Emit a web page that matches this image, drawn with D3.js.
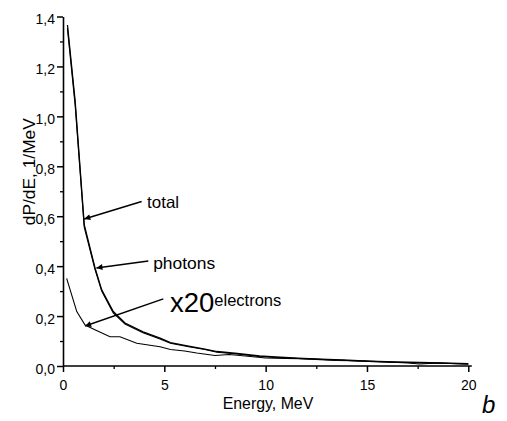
<!DOCTYPE html>
<html>
<head>
<meta charset="utf-8">
<script src="https://cdn.jsdelivr.net/npm/d3@7"></script>
<style>
  body { margin: 0; background: #fff; }
  svg { display: block; }
  text { font-family: "Liberation Sans", Arial, sans-serif; fill: #000; }
</style>
</head>
<body>
<svg id="chart" width="507" height="421"></svg>
<script>
// ---- Data ----
const totalE   = [0.22, 0.6, 1.05, 1.58, 1.91, 2.48, 3.06, 3.95, 4.79, 5.3, 6.2, 7.0, 7.6, 8.6, 9.7, 10.5, 11.6, 12.7, 13.8, 15.1, 16.4, 17.6, 19.1, 20.0];
const totalY   = [1.366, 1.06, 0.565, 0.393, 0.305, 0.218, 0.172, 0.137, 0.112, 0.094, 0.080, 0.068, 0.058, 0.050, 0.040, 0.036, 0.031, 0.027, 0.024, 0.019, 0.016, 0.014, 0.011, 0.009];
const photonsY = [1.352, 1.047, 0.556, 0.387, 0.300, 0.213, 0.168, 0.133, 0.108, 0.091, 0.077, 0.066, 0.055, 0.048, 0.038, 0.034, 0.030, 0.025, 0.023, 0.018, 0.015, 0.013, 0.010, 0.008];
const electronsE = [0.18, 0.68, 1.09, 1.6, 2.32, 2.81, 3.64, 4.79, 5.3, 6.0, 6.6, 7.5, 8.2, 9.0, 10.0, 11.0, 12.5, 13.5, 15.0, 16.0, 17.0, 17.6, 18.5, 19.2, 20.0];
const electronsY = [0.351, 0.218, 0.164, 0.144, 0.117, 0.117, 0.091, 0.077, 0.066, 0.060, 0.052, 0.042, 0.046, 0.040, 0.032, 0.030, 0.028, 0.022, 0.020, 0.016, 0.012, 0.008, 0.012, 0.010, 0.008];

const xTicks = [0, 5, 10, 15, 20];
const xMinorTicks = [2.5, 7.5, 12.5, 17.5];
const yTicks = [0, 0.2, 0.4, 0.6, 0.8, 1.0, 1.2, 1.4];
const yMinorTicks = [0.1, 0.3, 0.5, 0.7, 0.9, 1.1, 1.3];

// annotations: label, arrow tip (E, y), arrow tail (E, y), label anchor (E, y)
const annotations = [
  { label: "total",   tip: [1.05, 0.589], tail: [3.88, 0.659], pos: [4.15, 0.632], width: 32 },
  { label: "photons", tip: [1.65, 0.393], tail: [4.21, 0.421], pos: [4.45, 0.388], width: 62 }
];
const elecArrow = { tip: [1.09, 0.160], tail: [4.95, 0.269], pos: [5.28, 0.218] };

const xTitle = "Energy, MeV";
const yTitle = "dP/dE, 1/MeV";

// ---- Chart ----
const svg = d3.select("#chart");
const x = d3.scaleLinear().domain([0, 20]).range([63, 468.3]);
const y = d3.scaleLinear().domain([0, 1.4]).range([366, 16.5]);

const loc = d3.formatLocale({ decimal: ",", thousands: " ", grouping: [3], currency: ["", ""] });
const yFmt = loc.format(".1f");

// minor ticks
svg.append("g").attr("transform", `translate(0,${y(0)})`)
  .call(d3.axisBottom(x).tickValues(xMinorTicks).tickSize(3).tickFormat(""))
  .call(g => g.select(".domain").remove())
  .call(g => g.selectAll("line").attr("stroke-width", 1.3));
svg.append("g").attr("transform", `translate(${x(0)},0)`)
  .call(d3.axisLeft(y).tickValues(yMinorTicks).tickSize(3).tickFormat(""))
  .call(g => g.select(".domain").remove())
  .call(g => g.selectAll("line").attr("stroke-width", 1.3));

// major axes
const xAxis = svg.append("g").attr("transform", `translate(0,${y(0)})`)
  .call(d3.axisBottom(x).tickValues(xTicks).tickSize(6).tickSizeOuter(0).tickPadding(8).tickFormat(d3.format("d")));
xAxis.select(".domain").attr("d", `M${x(0)},0H${x(20) + 3.5}`);
const yAxis = svg.append("g").attr("transform", `translate(${x(0)},0)`)
  .call(d3.axisLeft(y).tickValues(yTicks).tickSize(6).tickSizeOuter(0).tickPadding(2).tickFormat(yFmt));
yAxis.selectAll("text").attr("dy", "0.5em");
[xAxis, yAxis].forEach(g => {
  g.attr("font-family", null).attr("font-size", null);
  g.select(".domain").attr("stroke-width", 1.6);
  g.selectAll(".tick line").attr("stroke-width", 1.5);
  g.selectAll("text").attr("font-size", 14).attr("font-family", "'Liberation Sans', Arial, sans-serif");
});

// titles
svg.append("text").attr("x", 268).attr("y", 409)
  .attr("text-anchor", "middle").attr("font-size", 15.7)
  .attr("textLength", 90.6).attr("lengthAdjust", "spacingAndGlyphs").text(xTitle);
svg.append("text").attr("transform", "translate(34.5,171.7) rotate(-90)")
  .attr("text-anchor", "middle").attr("font-size", 16)
  .attr("textLength", 107).attr("lengthAdjust", "spacingAndGlyphs").text(yTitle);

// curves
const line = d3.line().x(d => x(d[0])).y(d => y(d[1]));
svg.append("path").datum(electronsE.map((e, i) => [e, electronsY[i]]))
  .attr("d", line).attr("fill", "none").attr("stroke", "#000").attr("stroke-width", 1.1);
svg.append("path").datum(totalE.map((e, i) => [e, photonsY[i]]))
  .attr("d", line).attr("fill", "none").attr("stroke", "#000").attr("stroke-width", 1.2);
svg.append("path").datum(totalE.map((e, i) => [e, totalY[i]]))
  .attr("d", line).attr("fill", "none").attr("stroke", "#000").attr("stroke-width", 1.3);

// arrows
svg.append("defs").append("marker")
  .attr("id", "ah").attr("viewBox", "0 0 10 10").attr("refX", 10).attr("refY", 5)
  .attr("markerWidth", 8).attr("markerHeight", 6).attr("markerUnits", "userSpaceOnUse")
  .attr("orient", "auto")
  .append("path").attr("d", "M0,0L10,5L0,10Z").attr("fill", "#000");

function arrow(a) {
  svg.append("line")
    .attr("x1", x(a.tail[0])).attr("y1", y(a.tail[1]))
    .attr("x2", x(a.tip[0])).attr("y2", y(a.tip[1]))
    .attr("stroke", "#000").attr("stroke-width", 1.5).attr("marker-end", "url(#ah)");
}
annotations.forEach(a => {
  arrow(a);
  svg.append("text").attr("x", x(a.pos[0])).attr("y", y(a.pos[1]))
    .attr("font-size", 16.5).attr("textLength", a.width).attr("lengthAdjust", "spacingAndGlyphs")
    .text(a.label);
});
arrow(elecArrow);
const et = svg.append("text").attr("x", x(elecArrow.pos[0])).attr("y", 311.7);
et.append("tspan").attr("font-size", 27.5).text("x20");
et.append("tspan").attr("font-size", 16.5).attr("dy", -5.5).text("electrons");

// panel letter
svg.append("text").attr("x", 482).attr("y", 413)
  .attr("font-family", "'Liberation Serif', 'Times New Roman', serif")
  .attr("font-style", "italic").attr("font-size", 24).text("b");
</script>
</body>
</html>
